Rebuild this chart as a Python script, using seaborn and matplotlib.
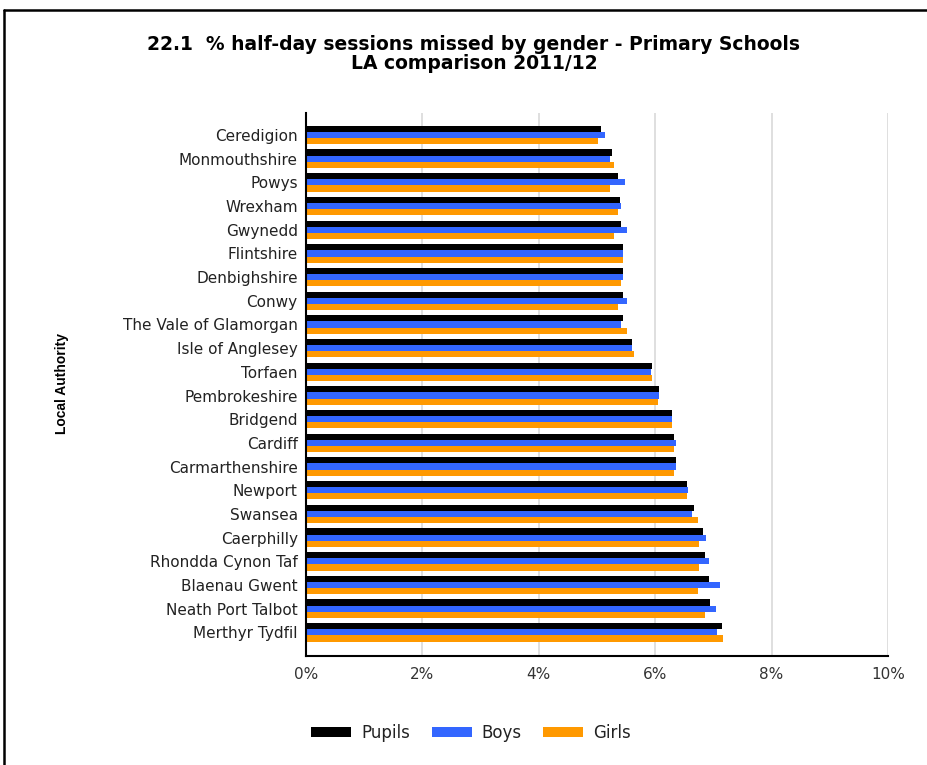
import matplotlib
matplotlib.use("Agg")
import matplotlib.pyplot as plt
from matplotlib.lines import Line2D
from matplotlib.patches import Patch
import seaborn as sns
import pandas as pd

authorities = ["Ceredigion", "Monmouthshire", "Powys", "Wrexham", "Gwynedd", "Flintshire",
               "Denbighshire", "Conwy", "The Vale of Glamorgan", "Isle of Anglesey", "Torfaen",
               "Pembrokeshire", "Bridgend", "Cardiff", "Carmarthenshire", "Newport", "Swansea",
               "Caerphilly", "Rhondda Cynon Taf", "Blaenau Gwent", "Neath Port Talbot",
               "Merthyr Tydfil"]
pupils = [5.07, 5.26, 5.36, 5.39, 5.42, 5.45, 5.45, 5.45, 5.45, 5.60, 5.95, 6.07, 6.29, 6.32,
          6.36, 6.54, 6.67, 6.82, 6.86, 6.92, 6.95, 7.14]
boys = [5.13, 5.23, 5.48, 5.42, 5.52, 5.45, 5.45, 5.52, 5.42, 5.60, 5.92, 6.07, 6.29, 6.36,
        6.36, 6.57, 6.63, 6.88, 6.92, 7.11, 7.04, 7.07]
girls = [5.01, 5.29, 5.23, 5.36, 5.29, 5.45, 5.42, 5.36, 5.52, 5.63, 5.95, 6.05, 6.29, 6.32,
         6.32, 6.54, 6.73, 6.76, 6.76, 6.73, 6.86, 7.17]
series = ["Pupils", "Boys", "Girls"]
colors = ["#000000", "#3366FF", "#FF9900"]
x_ticks = [0, 2, 4, 6, 8, 10]

rows = []
for name, vals in zip(series, [pupils, boys, girls]):
    for a, v in zip(authorities, vals):
        rows.append({"Authority": a, "Series": name, "Value": v})
df = pd.DataFrame(rows)

sns.set_style("white")
plt.rcParams["font.family"] = ["DejaVu Sans"]

fig = plt.figure(figsize=(9.28, 7.65), dpi=100)
ax = fig.add_axes([306 / 928, 1 - 656 / 765, (888 - 306) / 928, (656 - 113) / 765])

sns.barplot(data=df, y="Authority", x="Value", hue="Series", orient="h",
            palette=colors, hue_order=series, order=authorities, width=0.78,
            ax=ax, legend=False, saturation=1, edgecolor="none")

ax.set_xlim(0, 10)
ax.set_ylim(22.0, -0.93)
ax.set_xticks(x_ticks)
ax.set_xticklabels([f"{t}%" for t in x_ticks], fontsize=11, color="#333333")
ax.tick_params(axis="x", length=5, width=1, color="#000000", pad=3)
ax.tick_params(axis="y", length=0, pad=6, labelsize=11, labelcolor="#222222")
ax.grid(axis="x", color="#d9d9d9", linewidth=1.2)
ax.set_axisbelow(True)
for s in ["top", "right"]:
    ax.spines[s].set_visible(False)
for s in ["left", "bottom"]:
    ax.spines[s].set_color("#000000")
    ax.spines[s].set_linewidth(1.5)
ax.set_xlabel("")
ax.set_ylabel("")

fig.text(62 / 928, 1 - 384 / 765, "Local Authority", rotation=90, ha="center", va="center",
         fontsize=10, fontweight="bold", color="black",
         family=["Liberation Sans Narrow", "Liberation Sans"])

fig.text(474 / 928, 1 - 54 / 765,
         "22.1  % half-day sessions missed by gender - Primary Schools\nLA comparison 2011/12",
         ha="center", va="center", fontsize=13.5, fontweight="bold", linespacing=1.05,
         color="black", family=["DejaVu Sans"])

handles = [Patch(facecolor=c, edgecolor="none", label=s) for s, c in zip(series, colors)]
fig.legend(handles=handles, loc="center", bbox_to_anchor=(471 / 928, 1 - 733 / 765), ncol=3,
           frameon=False, fontsize=12, handlelength=2.4, handleheight=0.5,
           columnspacing=1.3, handletextpad=0.6, labelcolor="#222222")

fig.add_artist(Line2D([4 / 928, 4 / 928], [0, 1 - 10 / 765], color="black", linewidth=1.8,
                      transform=fig.transFigure))
fig.add_artist(Line2D([4 / 928, 1], [1 - 10 / 765, 1 - 10 / 765], color="black", linewidth=1.8,
                      transform=fig.transFigure))

fig.savefig("out.png", dpi=100)
